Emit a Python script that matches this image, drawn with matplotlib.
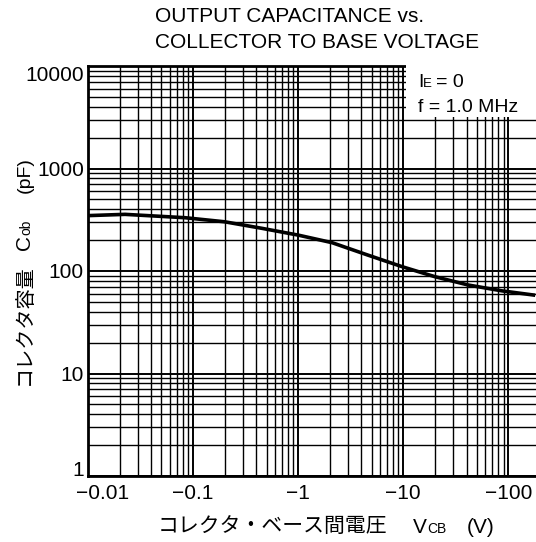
import numpy as np
import matplotlib
matplotlib.use("Agg")
import matplotlib.pyplot as plt
from matplotlib.ticker import LogLocator, FixedLocator, FixedFormatter, NullFormatter
from matplotlib.patches import Rectangle
import matplotlib.transforms as mtransforms

plt.rcParams['font.family'] = ['Liberation Sans', 'Noto Sans CJK JP', 'DejaVu Sans']
JP = ['Noto Sans CJK JP', 'DejaVu Sans']

# コレクタ・ベース間電圧 |VCB| (V) と出力容量 Cob (pF)
vcb = [0.01, 0.0225, 0.084, 0.2, 0.45, 1.0, 2.1, 4.6, 9.8, 20, 41.5, 87, 180]
cob = [347, 357, 331, 302, 261, 224, 189, 143, 110, 88, 73, 64, 58]

x_ticks = [0.01, 0.1, 1, 10, 100]
x_labels = ['\u22120.01', '\u22120.1', '\u22121', '\u221210', '\u2212100']
y_ticks = [1, 10, 100, 1000, 10000]
y_labels = ['1', '10', '100', '1000', '10000']

W, H = 536, 542
fig = plt.figure(figsize=(W / 100, H / 100), dpi=100)
ax = fig.add_axes([88 / W, 1 - 476 / H, 452 / W, 410 / H])


def px(x, y):
    # ピクセル位置（左上原点）→ figure 座標
    return x / W, 1 - y / H


ax.set_xscale('log')
ax.set_yscale('log')
ax.set_xlim(0.01, 200)
ax.set_ylim(1, 10000)

ax.xaxis.set_major_locator(FixedLocator(x_ticks))
ax.xaxis.set_major_formatter(FixedFormatter(x_labels))
ax.xaxis.set_minor_locator(LogLocator(base=10, subs=np.arange(2, 10), numticks=20))
ax.xaxis.set_minor_formatter(NullFormatter())
ax.yaxis.set_major_locator(FixedLocator(y_ticks))
ax.yaxis.set_major_formatter(FixedFormatter(y_labels))
ax.yaxis.set_minor_locator(LogLocator(base=10, subs=np.arange(2, 10), numticks=20))
ax.yaxis.set_minor_formatter(NullFormatter())

ax.grid(which='major', color='black', linewidth=1.4)
ax.grid(which='minor', color='black', linewidth=1.0)
ax.tick_params(which='both', length=0, labelsize=15, colors='black')
ax.tick_params(axis='x', pad=6)
ax.tick_params(axis='y', pad=3)

for side in ['left', 'bottom', 'top']:
    ax.spines[side].set_linewidth(2.0)
ax.spines['right'].set_visible(False)

# 条件表示の白い枠
ax.add_patch(Rectangle((0.703, 0.876), 0.40, 0.13, transform=ax.transAxes,
                       facecolor='white', edgecolor='none', zorder=3, clip_on=False))
fig.text(*px(418, 87), 'I', fontsize=14, va='baseline', zorder=4)
fig.text(*px(423, 87), 'E', fontsize=9.5, va='baseline', zorder=4)
fig.text(*px(436, 87), '= 0', fontsize=14, va='baseline', zorder=4)
fig.text(*px(418, 112), 'f = 1.0 MHz', fontsize=14, va='baseline', zorder=4)

ax.plot(vcb, cob, color='black', linewidth=2.6, zorder=5, solid_capstyle='butt')

# 端のラベル位置の調整
xl = ax.get_xticklabels()
xl[0].set_transform(xl[0].get_transform() +
                    mtransforms.ScaledTranslation(15 / 100, 0, fig.dpi_scale_trans))
yl = ax.get_yticklabels()
yl[0].set_verticalalignment('baseline')
yl[-1].set_verticalalignment('top')

# タイトル
fig.text(*px(155, 22), 'OUTPUT CAPACITANCE vs.', va='baseline', fontsize=15)
fig.text(*px(155, 48), 'COLLECTOR TO BASE VOLTAGE', va='baseline', fontsize=15)

# x 軸ラベル
fig.text(*px(158, 533), 'コレクタ・ベース間電圧', va='baseline', fontsize=15, family=JP)
fig.text(*px(413, 533), 'V', va='baseline', fontsize=15)
fig.text(*px(427, 533), 'CB', va='baseline', fontsize=10)
fig.text(*px(467, 533), '(V)', va='baseline', fontsize=15)

# y 軸ラベル（縦書き方向に回転）
rot = dict(rotation=90, rotation_mode='anchor', ha='left', va='baseline')
fig.text(*px(30, 385), 'コレクタ容量', fontsize=14.5, family=JP, **rot)
fig.text(*px(30, 250), 'C', fontsize=15, **rot)
fig.text(*px(30, 235), 'ob', fontsize=10, **rot)
fig.text(*px(30, 193), '(pF)', fontsize=14, **rot)

fig.savefig('out.png', dpi=100, facecolor='white')
